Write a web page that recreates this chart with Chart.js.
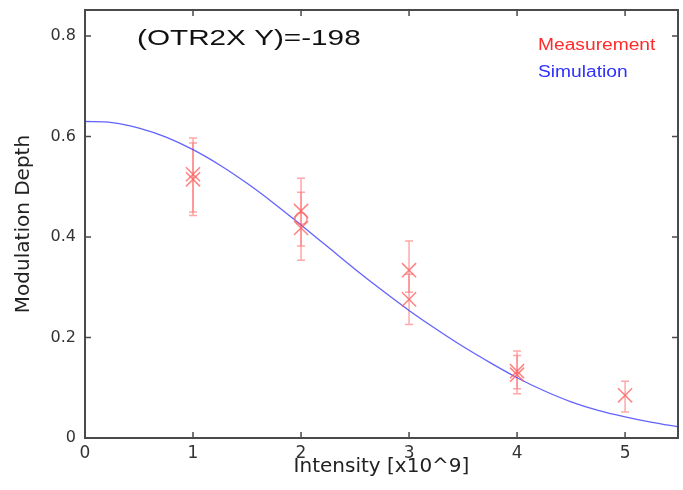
<!DOCTYPE html>
<html>
<head>
<meta charset="utf-8">
<script src="https://cdn.jsdelivr.net/npm/chart.js@4.4.1/dist/chart.umd.min.js"></script>
<style>
  html, body { margin: 0; padding: 0; background: #fff; }
  #wrap { width: 683px; height: 490px; }
</style>
</head>
<body>
<div id="wrap"><canvas id="chart" width="683" height="490"></canvas></div>
<script>
// ─── AXES ─────────────────────────────────────────────────────
const xTicks      = [0, 1, 2, 3, 4, 5];
const xTickLabels = ['0', '1', '2', '3', '4', '5'];
const yTicks      = [0, 0.2, 0.4, 0.6, 0.8];
const yTickLabels = ['0', '0.2', '0.4', '0.6', '0.8'];

// ─── SIMULATION CURVE ────────────────────────────────────────
const simX = [0, 0.25, 0.5, 0.75, 1, 1.25, 1.5, 1.75, 2, 2.25, 2.5, 2.75,
              3, 3.25, 3.5, 3.75, 4, 4.25, 4.5, 4.75, 5, 5.25, 5.5];
const simY = [0.630, 0.628, 0.617, 0.599, 0.574, 0.543, 0.507, 0.467, 0.424, 0.380, 0.336, 0.294,
              0.254, 0.217, 0.182, 0.150, 0.120, 0.094, 0.072, 0.055, 0.042, 0.031, 0.022];

// ─── MEASUREMENTS + ERROR BARS ───────────────────────────────
const measX  = [1, 1, 2, 2, 3, 3, 4, 4, 5];
const measY  = [0.525, 0.515, 0.452, 0.418, 0.334, 0.276, 0.133, 0.126, 0.085];
const measHi = [0.597, 0.587, 0.517, 0.489, 0.392, 0.326, 0.173, 0.164, 0.113];
const measLo = [0.450, 0.443, 0.382, 0.354, 0.290, 0.226, 0.098, 0.088, 0.052];

// averaged point (open circle)
const avgX = [2];
const avgY = [0.437];

const FONT = 'DejaVu Sans';

// ─── PLUGIN: frame, inner ticks, error bars, labels ──────────
function wideText(ctx, text, x, y, font, color, sx) {
    ctx.save();
    ctx.font = font;
    ctx.fillStyle = color;
    ctx.textBaseline = 'alphabetic';
    ctx.translate(x, y);
    ctx.scale(sx, 1);
    ctx.fillText(text, 0, 0);
    ctx.restore();
}

function noPad(s) {
    s.paddingLeft = s.paddingRight = s.paddingTop = s.paddingBottom = 0;
}

const decor = {
    id: 'decor',
    beforeDatasetsDraw(chart) {
        const { ctx, scales: { x, y } } = chart;
        ctx.save();
        ctx.strokeStyle = 'rgba(255,110,110,0.6)';
        ctx.lineWidth = 1.5;
        measX.forEach((mx, i) => {
            const px  = x.getPixelForValue(mx);
            const top = y.getPixelForValue(measHi[i]);
            const bot = y.getPixelForValue(measLo[i]);
            ctx.beginPath();
            ctx.moveTo(px, top); ctx.lineTo(px, bot);
            ctx.moveTo(px - 4, top); ctx.lineTo(px + 4, top);
            ctx.moveTo(px - 4, bot); ctx.lineTo(px + 4, bot);
            ctx.stroke();
        });
        ctx.restore();
    },
    afterDraw(chart) {
        const { ctx, chartArea: a, scales: { x, y } } = chart;
        ctx.save();
        ctx.strokeStyle = '#4a4a4a';
        ctx.lineWidth = 2;
        ctx.strokeRect(a.left, a.top, a.right - a.left, a.bottom - a.top);

        ctx.lineWidth = 1.5;
        ctx.beginPath();
        xTicks.forEach(v => {
            const px = x.getPixelForValue(v);
            ctx.moveTo(px, a.bottom); ctx.lineTo(px, a.bottom - 6);
            ctx.moveTo(px, a.top);    ctx.lineTo(px, a.top + 6);
        });
        yTicks.forEach(v => {
            const py = y.getPixelForValue(v);
            ctx.moveTo(a.left, py);  ctx.lineTo(a.left + 6, py);
            ctx.moveTo(a.right, py); ctx.lineTo(a.right - 6, py);
        });
        ctx.stroke();
        ctx.restore();

        wideText(ctx, '(OTR2X Y)=-198', 137, 45, '22px "Liberation Sans"', '#111', 1.35);
        wideText(ctx, 'Measurement', 538, 50, '16px "Liberation Sans"', '#ff2a2a', 1.2);
        wideText(ctx, 'Simulation', 538, 77, '16px "Liberation Sans"', '#3030ff', 1.2);
    }
};

// ─── CHART ───────────────────────────────────────────────────
new Chart(document.getElementById('chart'), {
    type: 'scatter',
    data: {
        datasets: [
            {
                label: 'Simulation',
                data: simX.map((v, i) => ({ x: v, y: simY[i] })),
                showLine: true,
                borderColor: 'rgba(70,70,255,0.85)',
                borderWidth: 1.3,
                pointRadius: 0,
                cubicInterpolationMode: 'monotone',
                order: 2
            },
            {
                label: 'Measurement',
                data: measX.map((v, i) => ({ x: v, y: measY[i] })),
                pointStyle: 'crossRot',
                pointRadius: 10,
                borderColor: 'rgba(255,90,90,0.75)',
                borderWidth: 1.5,
                order: 1
            },
            {
                label: 'Average',
                data: avgX.map((v, i) => ({ x: v, y: avgY[i] })),
                pointStyle: 'circle',
                pointRadius: 6,
                backgroundColor: 'rgba(0,0,0,0)',
                borderColor: 'rgba(255,100,100,0.7)',
                borderWidth: 1.5,
                order: 0
            }
        ]
    },
    options: {
        responsive: false,
        animation: false,
        devicePixelRatio: 1,
        layout: { autoPadding: false, padding: { left: 0, top: 10, right: 5, bottom: 0 } },
        plugins: { legend: { display: false }, tooltip: { enabled: false } },
        scales: {
            x: {
                type: 'linear',
                min: 0,
                max: 5.49,
                afterBuildTicks: s => { s.ticks = xTicks.map(v => ({ value: v })); },
                afterFit: s => { s.height = 52; noPad(s); },
                grid: { display: false, drawTicks: false },
                border: { display: false },
                ticks: {
                    padding: 5,
                    color: '#333',
                    font: { family: FONT, size: 17 },
                    callback: (v, i) => xTickLabels[i]
                },
                title: {
                    display: true,
                    text: 'Intensity [x10^9]',
                    color: '#222',
                    font: { family: FONT, size: 20 },
                    padding: { top: 0, bottom: 11 }
                }
            },
            y: {
                type: 'linear',
                min: 0,
                max: 0.852,
                afterBuildTicks: s => { s.ticks = yTicks.map(v => ({ value: v })); },
                afterFit: s => { s.width = 85; noPad(s); },
                grid: { display: false, drawTicks: false },
                border: { display: false },
                ticks: {
                    padding: 9,
                    color: '#333',
                    font: { family: FONT, size: 16 },
                    callback: (v, i) => yTickLabels[i]
                },
                title: {
                    display: true,
                    text: 'Modulation Depth',
                    color: '#222',
                    font: { family: FONT, size: 20 },
                    padding: { top: 12, bottom: 0 }
                }
            }
        }
    },
    plugins: [decor]
});
</script>
</body>
</html>
